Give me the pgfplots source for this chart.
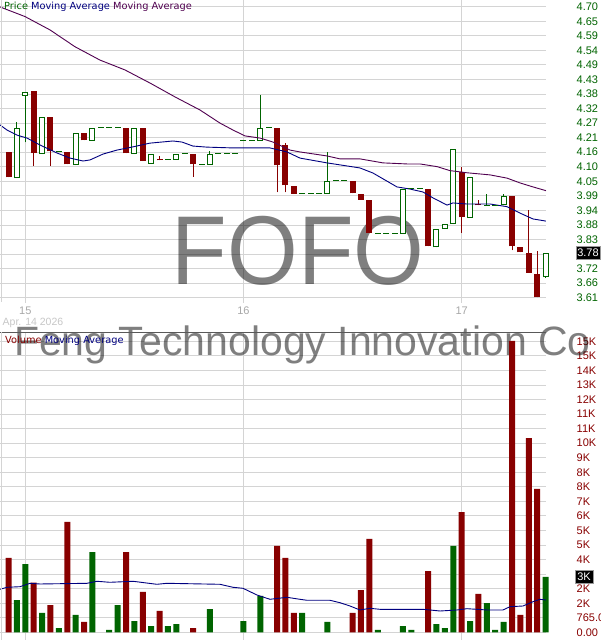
\documentclass[border=0pt]{standalone}
\usepackage{fontspec}
\setmainfont{Liberation Sans}
\newfontfamily\dejavu{DejaVu Sans}
\usepackage{pgfplots}
\usepackage{pgfplotstable}
\pgfplotsset{compat=1.18}
\definecolor{cred}{HTML}{880000}
\definecolor{cgreen}{HTML}{006400}
\definecolor{cnavy}{HTML}{000080}
\definecolor{cpurple}{HTML}{500050}
\definecolor{gridgray}{HTML}{D4D4D4}
\definecolor{daygray}{HTML}{A8A8A8}

% candles: index (15 min bars), open, high, low, close
\pgfplotstableread{
i o h l c
-2 4.157 4.157 4.061 4.061
1 4.385 4.385 4.104 4.152
3 4.288 4.288 4.104 4.158
5 4.157 4.157 4.109 4.109
7 4.228 4.228 4.199 4.199
12 4.246 4.246 4.151 4.151
14 4.247 4.247 4.122 4.122
16 4.128 4.142 4.124 4.124
20 4.149 4.149 4.064 4.109
30 4.247 4.247 4.005 4.106
31 4.183 4.190 4.005 4.031
32 4.030 4.030 4.000 4.000
39 4.048 4.048 4.001 4.001
40 4.000 4.000 3.977 3.977
41 3.977 3.977 3.852 3.852
48 4.018 4.018 3.802 3.802
52 4.079 4.098 3.852 3.911
54 3.960 3.976 3.956 3.956
58 3.991 3.991 3.787 3.802
59 3.800 3.800 3.780 3.780
60 3.777 3.940 3.703 3.703
61 3.699 3.786 3.611 3.611
}\redc

\pgfplotstableread{
i o h l c
-1 4.058 4.269 4.058 4.246
0 4.367 4.380 4.192 4.380
2 4.148 4.287 4.148 4.287
6 4.107 4.227 4.107 4.227
8 4.197 4.246 4.197 4.246
13 4.148 4.246 4.148 4.246
15 4.111 4.149 4.111 4.149
18 4.126 4.149 4.126 4.149
22 4.108 4.160 4.108 4.149
28 4.198 4.370 4.198 4.246
36 4.000 4.156 4.000 4.048
45 3.849 4.018 3.849 4.018
49 3.799 3.867 3.799 3.867
50 3.867 3.886 3.867 3.886
51 3.886 4.167 3.886 4.167
53 3.909 4.062 3.909 4.062
57 3.956 4.000 3.956 3.991
62 3.686 3.777 3.683 3.777
}\greenc

% bars with no move: price, high
\pgfplotstableread{
i p h
4 4.156 4.156
9 4.246 4.246
10 4.246 4.246
11 4.246 4.246
17 4.126 4.126
19 4.149 4.149
21 4.108 4.108
23 4.149 4.149
24 4.149 4.149
25 4.149 4.149
26 4.198 4.198
27 4.198 4.198
29 4.246 4.246
33 4.000 4.000
34 4.000 4.000
35 4.000 4.000
37 4.048 4.048
38 4.048 4.048
42 3.850 3.850
43 3.850 3.850
44 3.850 3.850
46 4.018 4.018
47 4.018 4.018
55 3.955 4.000
56 3.956 3.956
}\flatc

\pgfplotstableread{
i p
-3.01 4.699
-0.04 4.663
2.94 4.613
5.92 4.550
8.90 4.500
11.88 4.463
14.86 4.414
17.84 4.362
20.82 4.313
23.20 4.264
24.75 4.238
26.18 4.216
27.97 4.208
29.52 4.193
31.54 4.163
32.73 4.156
35.95 4.141
37.50 4.130
39.88 4.130
42.62 4.115
45.48 4.111
47.03 4.111
49.06 4.101
50.61 4.086
52.63 4.078
55.38 4.070
57.40 4.058
58.95 4.040
60.50 4.025
62.04 4.011
}\malong

\pgfplotstableread{
i p
-3.01 4.257
-2.18 4.238
-0.99 4.219
0.20 4.208
1.75 4.182
3.78 4.152
5.33 4.133
6.88 4.122
7.71 4.126
9.26 4.148
10.93 4.163
12.83 4.175
14.86 4.189
17.60 4.197
18.67 4.193
19.98 4.178
21.65 4.174
24.75 4.171
29.16 4.171
31.18 4.156
32.73 4.133
35.95 4.115
39.88 4.096
41.43 4.077
44.29 4.025
45.84 4.017
47.39 4.006
48.58 3.984
50.25 3.957
50.96 3.965
52.63 3.961
55.38 3.961
57.40 3.951
58.95 3.927
60.50 3.905
62.04 3.897
}\mashort

\pgfplotstableread{
i v
-2 3907
1 2608
3 1435
5 5800
7 542
12 4222
14 2119
16 1120
20 226
30 4538
31 3907
32 1015
39 1015
40 2224
41 4906
48 3223
52 6325
54 2014
58 15317
59 910
60 10216
61 7535
}\volred

\pgfplotstableread{
i v
-1 1698
0 3591
2 1015
4 226
6 910
8 4222
10 121
11 1435
13 594
15 331
17 331
18 436
22 1225
26 594
28 1909
33 1015
36 542
42 121
45 331
46 121
49 436
50 226
51 4538
53 594
55 1540
56 121
57 542
62 2908
}\volgreen

\pgfplotstableread{
i v
-3.01 2261
-2.18 2366
-0.63 2398
0.56 2576
1.75 2540
7.35 2576
8.54 2682
10.09 2629
12.83 2682
15.69 2524
16.88 2576
23.20 2524
24.75 2366
25.94 2314
27.61 1961
29.16 1735
31.18 1840
32.73 1735
33.57 1683
36.31 1683
37.50 1556
38.69 1383
39.88 1173
41.07 1262
42.27 1209
47.39 1209
49.42 1120
51.44 1173
52.63 1241
55.02 1173
56.92 1173
57.76 1346
59.31 1383
60.50 1609
61.33 1735
62.04 1698
}\volma

\pgfplotsset{
  panel/.style={
    scale only axis, width=546pt, clip=false,
    xmin=-3.015, xmax=62.05,
    axis line style={draw=none},
    major tick length=0pt,
    xtick={0,26,52},
    xmajorgrids, ymajorgrids,
    grid style={gridgray, line width=0.9pt},
    yticklabel pos=right,
    yticklabel shift=30.5pt,
    scaled y ticks=false,
    yticklabel style={anchor=west, inner sep=0pt, font=\fontsize{11}{11}\selectfont},
  },
  body/.style={draw=none, mark=none, forget plot,
    error bars/.cd, y dir=plus, y explicit, error mark=none,
    error bar style={line width=#1}},
}

\begin{document}
\begin{tikzpicture}[x=1pt, y=1pt]
\fill[white] (0pt,0pt) rectangle (600pt,640pt);
\useasboundingbox (0pt,0pt) rectangle (600pt,640pt);

% price panel
\begin{axis}[panel, at={(0pt,337pt)}, anchor=south west, height=303pt,
  ymin=3.5903, ymax=4.725,
  ytick={3.61,3.6645,3.719,3.7735,3.828,3.8825,3.937,3.9915,4.046,4.1005,4.155,4.2095,4.264,4.3185,4.373,4.4275,4.482,4.5365,4.591,4.6455,4.70},
  yticklabels={3.61,3.66,3.72,,3.83,3.88,3.94,3.99,4.05,4.10,4.16,4.21,4.27,4.32,4.38,4.43,4.49,4.54,4.59,4.65,4.70},
  yticklabel style={text=cgreen},
  xticklabels={15,16,17},
  xticklabel style={anchor=north, inner sep=0pt, text=daygray, font=\fontsize{11}{11}\selectfont},
  xticklabel shift=3.7pt,
]
\node[anchor=base, text=black, opacity=0.5,
  font=\fontsize{97.8}{97.8}\selectfont] at (axis cs:32.5,3.6577) {\scalebox{0.93}[1]{FOFO}};

% wicks
\addplot[body=1pt, error bar style={draw=cred}]
  table[x=i, y=l, y error plus expr=\thisrow{h}-\thisrow{l}] {\redc};
\addplot[body=1pt, error bar style={draw=cgreen}]
  table[x=i, y=l, y error plus expr=\thisrow{h}-\thisrow{l}] {\greenc};
\addplot[body=1pt, error bar style={draw=cgreen}]
  table[x=i, y=p, y error plus expr=\thisrow{h}-\thisrow{p}] {\flatc};
% bodies
\addplot[body=6pt, error bar style={draw=cred}]
  table[x=i, y=c, y error plus expr=\thisrow{o}-\thisrow{c}] {\redc};
\addplot[body=6pt, error bar style={draw=cgreen}]
  table[x=i, y=o, y error plus expr=\thisrow{c}-\thisrow{o}] {\greenc};
\addplot[body=4pt, error bar style={draw=white}]
  table[x=i, y expr=\thisrow{o}+0.0037, y error plus expr=\thisrow{c}-\thisrow{o}-0.0075] {\greenc};
\addplot[only marks, mark=-, mark size=3pt, cgreen, mark options={line width=1pt}]
  table[x=i, y=p] {\flatc};

\addplot[cpurple, line width=0.9pt] table[x=i, y=p] {\malong};
\addplot[cnavy, line width=0.9pt] table[x=i, y=p] {\mashort};
\end{axis}

% volume panel
\begin{axis}[panel, at={(0pt,0pt)}, anchor=south west, height=307.7pt,
  ymin=-404.9, ymax=15774,
  ytick={0,765,1530,2295,3060,3825,4590,5355,6120,6885,7650,8415,9180,9945,10710,11475,12240,13005,13770,14535,15300},
  yticklabels={0.00,765.0,2K,2K,,4K,5K,5K,6K,7K,8K,8K,9K,10K,11K,11K,12K,13K,14K,15K,15K},
  yticklabel style={text=cred},
  xticklabels={},
]
\node[anchor=base, text=black, opacity=0.5,
  font=\fontsize{41}{41}\selectfont] at (axis cs:33.03,14530) {Feng Technology Innovation Co};
\draw[color=black!65, line width=1pt] (rel axis cs:0,1) -- (rel axis cs:1,1);

\addplot[ybar, bar width=6pt, bar shift=0pt, fill=cred, draw=none] table[x=i, y=v] {\volred};
\addplot[ybar, bar width=6pt, bar shift=0pt, fill=cgreen, draw=none] table[x=i, y=v] {\volgreen};
\addplot[cnavy, line width=0.9pt] table[x=i, y=v] {\volma};
\end{axis}

% frame lines on the left
\draw[gridgray, line width=0.9pt] (1pt,338pt) -- (1pt,640pt);
\draw[gridgray, line width=0.9pt] (1pt,0pt) -- (1pt,307.7pt);

% legends and labels
\node[anchor=base west, inner sep=0pt, font=\dejavu\fontsize{9.8}{9.8}\selectfont] at (4pt,630pt)
  {\textcolor{cgreen}{Price} \textcolor{cnavy}{Moving Average} \textcolor{cpurple}{Moving Average}};
\node[anchor=base west, inner sep=0pt, font=\dejavu\fontsize{9.8}{9.8}\selectfont] at (5pt,296pt)
  {\textcolor{cred}{Volume} \textcolor{cnavy}{Moving Average}};
\node[anchor=base west, inner sep=0pt, text=black!22, font=\fontsize{10.5}{10.5}\selectfont] at (2.5pt,314pt)
  {Apr. 14 2026};
\node[fill=black, text=white, draw=black!40, inner sep=0pt, minimum width=24pt, minimum height=12.6pt,
  font=\fontsize{11}{11}\selectfont] at (588pt,387pt) {3.78};
\node[fill=black, text=white, draw=black!40, inner sep=0pt, minimum width=17.4pt, minimum height=12.6pt,
  font=\fontsize{11}{11}\selectfont] at (584pt,63pt) {3K};
\end{tikzpicture}
\end{document}
